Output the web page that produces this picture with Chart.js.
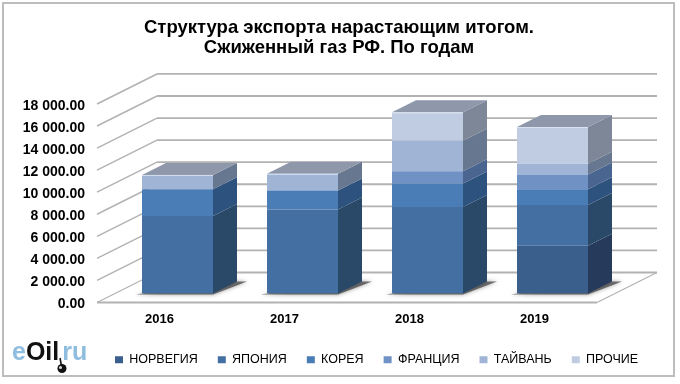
<!DOCTYPE html>
<html><head><meta charset="utf-8">
<style>html,body{margin:0;padding:0;background:#fff}canvas{display:block}</style>
<script src="https://cdn.jsdelivr.net/npm/chart.js@4/dist/chart.umd.js"></script>
</head><body><canvas id="c" width="680" height="384"></canvas>
<script>
const categories = ['2016','2017','2018','2019'];
const norway = [0,0,0,4333];
const japan  = [7030,7606,7848,3697];
const korea  = [2420,1727,2121,1424];
const france = [0,0,1121,1333];
const taiwan = [1300,1515,2757,970];
const others = [0,0,2576,3333];
const seriesNames = ['НОРВЕГИЯ','ЯПОНИЯ','КОРЕЯ','ФРАНЦИЯ','ТАЙВАНЬ','ПРОЧИЕ'];
const seriesValues = [norway,japan,korea,france,taiwan,others];
const frontColors = ['#3a5f8c','#446fa3','#4a7cb6','#7091c4','#a0b4d6','#c0cce2'];
const sideColors  = ['#263b5b','#2a4969','#2e527e','#4a6590','#66778f','#7e8798'];
const titleLines = ['Структура экспорта нарастающим итогом.','Сжиженный газ РФ. По годам'];
const logoParts = [['e','#8fbde0',0],['Oil','#111',0],['ru','#8fbde0',3]];
const FF = '"Liberation Sans", Arial, sans-serif';
const WALL = {dx:60, dy:-30}, BARS = {dx:18, dy:-9}, DEPTH = {dx:24, dy:-12};
const GRID = '#b2b2b2';

function line(ctx, x1,y1,x2,y2,w,col){ctx.beginPath();ctx.moveTo(x1,y1);ctx.lineTo(x2,y2);ctx.lineWidth=w;ctx.strokeStyle=col;ctx.stroke();}
function poly(ctx, pts, col){ctx.beginPath();pts.forEach((p,i)=>i?ctx.lineTo(p[0],p[1]):ctx.moveTo(p[0],p[1]));ctx.closePath();ctx.fillStyle=col;ctx.fill();}

const scene = {
  id:'scene',
  afterLayout(chart){
    const lg = chart.legend;
    lg.left = 95; lg.right = 680;
    const t = chart.titleBlock;
    t.left = 0; t.right = 678;
  },
  beforeDraw(chart){
    const {ctx, chartArea:a, scales:{y}} = chart;
    ctx.save();
    ctx.fillStyle='#fff';ctx.fillRect(0,0,680,384);
    ctx.strokeStyle='#bdbdbd';ctx.lineWidth=2;ctx.strokeRect(3,3,671,373);
    y.ticks.forEach(t=>{
      const py=y.getPixelForValue(t.value);
      line(ctx,a.left,py,a.left+WALL.dx,py+WALL.dy,t.value===0?1.2:1.5,GRID);
      line(ctx,a.left+WALL.dx,py+WALL.dy,a.right+WALL.dx,py+WALL.dy,1.8,GRID);
    });
    const b=y.getPixelForValue(0);
    line(ctx,a.left,b,a.right,b,2,GRID);
    line(ctx,a.right,b,a.right+WALL.dx,b+WALL.dy,1.2,GRID);
    ctx.restore();
  },
  beforeDatasetsDraw(chart){
    const {ctx} = chart;
    const metas = chart.data.datasets.map((d,i)=>chart.getDatasetMeta(i));
    ctx.save();
    ctx.translate(BARS.dx,BARS.dy);
    categories.forEach((c,j)=>{
      const first=metas[0].data[j], last=metas[metas.length-1].data[j];
      const L=first.x-first.width/2, R=first.x+first.width/2, base=first.base, top=last.y;
      ctx.save();
      ctx.shadowColor='rgba(60,60,60,.7)';ctx.shadowBlur=4;
      poly(ctx,[[L-6,base+1],[R,base+1],[R+DEPTH.dx+10,base+DEPTH.dy],[R,base+DEPTH.dy]],'rgba(70,70,70,.75)');
      ctx.restore();
      metas.forEach((m,i)=>{
        const bar=m.data[j];
        if(Math.abs(bar.base-bar.y)<0.01) return;
        poly(ctx,[[R,bar.base],[R+DEPTH.dx,bar.base+DEPTH.dy],[R+DEPTH.dx,bar.y+DEPTH.dy],[R,bar.y]],sideColors[i]);
      });
      poly(ctx,[[L,top],[R,top],[R+DEPTH.dx,top+DEPTH.dy],[L+DEPTH.dx,top+DEPTH.dy]],'#8f97aa');
    });
    ctx.restore();
    ctx.save();
    ctx.translate(BARS.dx,BARS.dy);
  },
  afterDatasetsDraw(chart){
    const {ctx} = chart;
    const metas = chart.data.datasets.map((d,i)=>chart.getDatasetMeta(i));
    categories.forEach((c,j)=>{
      const first=metas[0].data[j], last=metas[metas.length-1].data[j];
      const L=first.x-first.width/2, R=first.x+first.width/2;
      line(ctx,L,last.y+.5,R,last.y+.5,1,'rgba(225,232,245,.8)');
    });
    ctx.restore();
  },
  afterDraw(chart){
    const {ctx}=chart;
    ctx.save();
    ctx.font='bold 25px '+FF;ctx.textBaseline='alphabetic';ctx.textAlign='left';
    let x=12;
    logoParts.forEach(([s,col,gap])=>{x+=gap;ctx.fillStyle=col;ctx.fillText(s,x,360);x+=ctx.measureText(s).width;});
    ctx.fillStyle='#111';
    line(ctx,60,358,61.5,366,1.5,'#111');
    ctx.beginPath();ctx.arc(62,368.5,4.5,0,Math.PI*2);ctx.fill();
    ctx.fillStyle='#ddd';ctx.beginPath();ctx.arc(60.5,367.5,1.5,0,Math.PI*2);ctx.fill();
    ctx.restore();
  }
};

new Chart(document.getElementById('c'),{
  type:'bar',
  data:{labels:categories,datasets:seriesNames.map((n,i)=>({label:n,data:seriesValues[i],backgroundColor:frontColors[i],borderWidth:0,barPercentage:0.568,categoryPercentage:1}))},
  plugins:[scene],
  options:{
    responsive:false,animation:false,
    layout:{padding:{left:0,right:83,top:0,bottom:8}},
    plugins:{
      tooltip:{enabled:false},
      title:{display:true,text:titleLines,color:'#000',font:{family:FF,size:18.5,weight:'bold',lineHeight:1.08},padding:{top:18,bottom:46}},
      legend:{display:true,position:'bottom',align:'start',labels:{boxWidth:8,boxHeight:7,padding:20,color:'#000',font:{family:FF,size:12.5}}}
    },
    scales:{
      x:{stacked:true,grid:{display:false,drawTicks:false},border:{display:false},
        ticks:{color:'#000',font:{family:FF,size:13,weight:'bold'},padding:9},
        afterFit(s){s.height=31;}},
      y:{stacked:true,min:0,max:18000,grid:{display:false,drawTicks:false},border:{display:false},
        ticks:{stepSize:2000,color:'#000',padding:12,labelOffset:2,font:{family:FF,size:14,weight:'bold'},
          callback:v=>{const s=Math.abs(v)>=1000?Math.floor(v/1000)+' '+String(v%1000).padStart(3,'0'):String(v);return s+'.00';}},
        afterFit(s){s.width=97;}}
    }
  }
});
</script></body></html>
